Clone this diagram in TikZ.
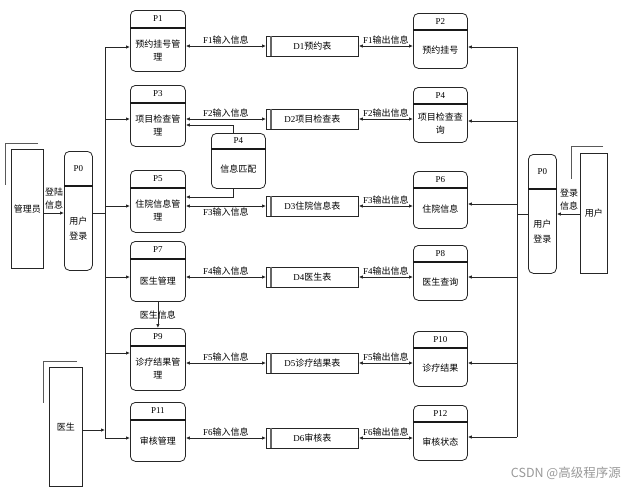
\documentclass[tikz,border=0pt]{standalone}
\usepackage{fontspec}
\setmainfont{Liberation Serif}
\newfontfamily\cjk{Noto Sans CJK SC}
\usetikzlibrary{arrows.meta}
\newcommand\tx{\fontsize{9}{13}\selectfont}
\newcommand\z[1]{{\cjk #1}}
\tikzset{
 ln/.style={line width=0.8pt, draw=black!85},
 arr/.style={ln, -{Latex[length=4pt,width=3.5pt]}},
 biarr/.style={ln, {Latex[length=4pt,width=3.5pt]}-{Latex[length=4pt,width=3.5pt]}},
 pbox/.style={draw=black!85, line width=0.8pt, rounded corners=5pt, inner sep=0pt},
 divl/.style={draw=black!90, line width=1.1pt},
 sbox/.style={draw=black!85, line width=0.8pt, minimum width=92pt, minimum height=20pt, inner sep=0pt, font=\tx},
 ent/.style={draw=black!85, line width=0.8pt, inner sep=0pt, font=\tx\cjk},
 shad/.style={draw=black!65, line width=0.9pt},
 lab/.style={font=\tx, inner sep=1pt},
}
\newcommand\proc[8]{%
 \node[pbox, minimum width=#4pt, minimum height=#5pt, anchor=north west] (#1) at (#2,#3) {};
 \draw[divl] ([yshift=-#6pt]#1.north west) -- ([yshift=-#6pt]#1.north east);
 \node[font=\tx, inner sep=0pt] (#1h) at ([yshift={-#6/2}]#1.north) {#7};
 \node[font=\tx\cjk, align=center, inner sep=0pt] (#1b) at ([yshift={(#5-#6)/2}]#1.south) {#8};
}
\newcommand\store[4]{%
 \node[sbox, anchor=west] (#1) at (#2,#3) {#4};
 \draw[draw=black!60, line width=1.3pt] ([xshift=5pt]#1.north west) -- ([xshift=5pt]#1.south west);
}
\begin{document}
\begin{tikzpicture}[x=1pt,y=-1pt]
\useasboundingbox (0,0) rectangle (636,493);
% processes left
\proc{P1}{130}{10}{55}{61}{18}{P1}{预约挂号管\\理}
\proc{P3}{130}{85}{55}{61}{18}{P3}{项目检查管\\理}
\proc{P5}{130}{170}{55}{62}{18}{P5}{住院信息管\\理}
\proc{P7}{130}{241}{55}{60}{18}{P7}{医生管理}
\proc{P9}{130}{328}{55}{62}{18}{P9}{诊疗结果管\\理}
\proc{P11}{130}{402}{55}{59}{18}{P11}{审核管理}
% processes right
\proc{P2}{413}{13}{54}{55}{17}{P2}{预约挂号}
\proc{P4}{413}{87}{54}{55}{17}{P4}{项目检查查\\询}
\proc{P6}{413}{171}{54}{57}{17}{P6}{住院信息}
\proc{P8}{413}{245}{54}{55}{17}{P8}{医生查询}
\proc{P10}{413}{331}{54}{55}{17}{P10}{诊疗结果}
\proc{P12}{413}{405}{54}{55}{17}{P12}{审核状态}
% middle
\proc{P4m}{211}{133}{54}{55}{16}{P4}{信息匹配}
% login
\proc{P0L}{64}{151}{28}{119}{35}{P0}{用户\\[2pt]登录}
\proc{P0R}{528}{154}{28}{119}{35}{P0}{用户\\[2pt]登录}
% stores
\store{D1}{266}{46}{D1\z{预约表}}
\store{D2}{266}{119}{D2\z{项目检查表}}
\store{D3}{266}{206}{D3\z{住院信息表}}
\store{D4}{266}{277}{D4\z{医生表}}
\store{D5}{266}{363}{D5\z{诊疗结果表}}
\store{D6}{266}{438}{D6\z{审核表}}
% entities
\node[ent, minimum width=32pt, minimum height=119pt, anchor=north west] (adm) at (11,149) {管理员};
\draw[shad] (38,143) -- (5,143) -- (5,185);
\node[ent, minimum width=33pt, minimum height=119pt, anchor=north west] (doc) at (49,367) {医生};
\draw[shad] (77,361) -- (43,361) -- (43,403);
\node[ent, minimum width=27pt, minimum height=120pt, anchor=north west] (usr) at (580,153) {用户};
\draw[shad] (603,146) -- (571,146) -- (571,179);
% left bus
\coordinate (L1) at (105,47);
\coordinate (L3) at (105,119);
\coordinate (L5) at (105,206);
\coordinate (L7) at (105,277);
\coordinate (L9) at (105,353);
\coordinate (L11) at (105,438);
\coordinate (Lp) at (105,213);
\coordinate (Ld) at (105,430);
\draw[ln] (L1) -- (L11);
\foreach \n in {1,3,5,7,9,11} \draw[arr] (L\n) -- (L\n -| P\n.west);
\draw[ln] (P0L.east |- Lp) -- (Lp);
\draw[arr] (adm.east |- Lp) -- (P0L.west |- Lp);
\node[lab, font=\tx\cjk, align=center] (lg1) at (54,199) {登陆\\信息};
\draw[arr] (doc.east |- Ld) -- (Ld);
% right bus
\coordinate (R2) at (517,47);
\coordinate (R4) at (517,121);
\coordinate (R6) at (517,204);
\coordinate (R8) at (517,277);
\coordinate (R10) at (517,363);
\coordinate (R12) at (517,437);
\coordinate (Rp) at (517,214);
\draw[ln] (R2) -- (R12);
\foreach \n in {2,4,6,8,10,12} \draw[arr] (R\n) -- (R\n -| P\n.east);
\draw[ln] (Rp) -- (P0R.west |- Rp);
\draw[arr] (usr.west |- Rp) -- (P0R.east |- Rp);
\node[lab, font=\tx\cjk, align=center] (lg2) at (569,200) {登录\\信息};
% store flows
\draw[biarr] (P1.east |- D1.west) -- (D1.west) node[midway, above, lab] (f1i) {F1\z{输入信息}};
\draw[biarr] (D1.east) -- (P2.west |- D1.east) node[midway, above, lab] (f1o) {F1\z{输出信息}};
\draw[biarr] (P3.east |- D2.west) -- (D2.west) node[midway, above, lab] (f2i) {F2\z{输入信息}};
\draw[biarr] (D2.east) -- (P4.west |- D2.east) node[midway, above, lab] (f2o) {F2\z{输出信息}};
\draw[biarr] (P5.east |- D3.west) -- (D3.west) node[midway, below, lab] (f3i) {F3\z{输入信息}};
\draw[biarr] (D3.east) -- (P6.west |- D3.east) node[midway, above, lab] (f3o) {F3\z{输出信息}};
\draw[biarr] (P7.east |- D4.west) -- (D4.west) node[midway, above, lab] (f4i) {F4\z{输入信息}};
\draw[biarr] (D4.east) -- (P8.west |- D4.east) node[midway, above, lab] (f4o) {F4\z{输出信息}};
\draw[biarr] (P9.east |- D5.west) -- (D5.west) node[midway, above, lab] (f5i) {F5\z{输入信息}};
\draw[biarr] (D5.east) -- (P10.west |- D5.east) node[midway, above, lab] (f5o) {F5\z{输出信息}};
\draw[biarr] (P11.east |- D6.west) -- (D6.west) node[midway, above, lab] (f6i) {F6\z{输入信息}};
\draw[biarr] (D6.east) -- (P12.west |- D6.east) node[midway, above, lab] (f6o) {F6\z{输出信息}};
% P4 matching
\coordinate (k1) at (233,125);
\coordinate (k2) at (233,197);
\draw[arr] (P4m.north -| k1) |- (P3.east |- k1);
\draw[arr] (P4m.south -| k2) |- (P5.east |- k2);
% doctor info
\draw[arr] (P7.south) -- (P9.north) node[midway, lab, font=\tx\cjk] (dinfo) {医生信息};
% watermark
\node[font=\fontsize{12.5}{14}\selectfont\cjk, text=black!40, anchor=east, inner sep=0pt] (wm) at (621,473) {CSDN @高级程序源};
\end{tikzpicture}
\end{document}
